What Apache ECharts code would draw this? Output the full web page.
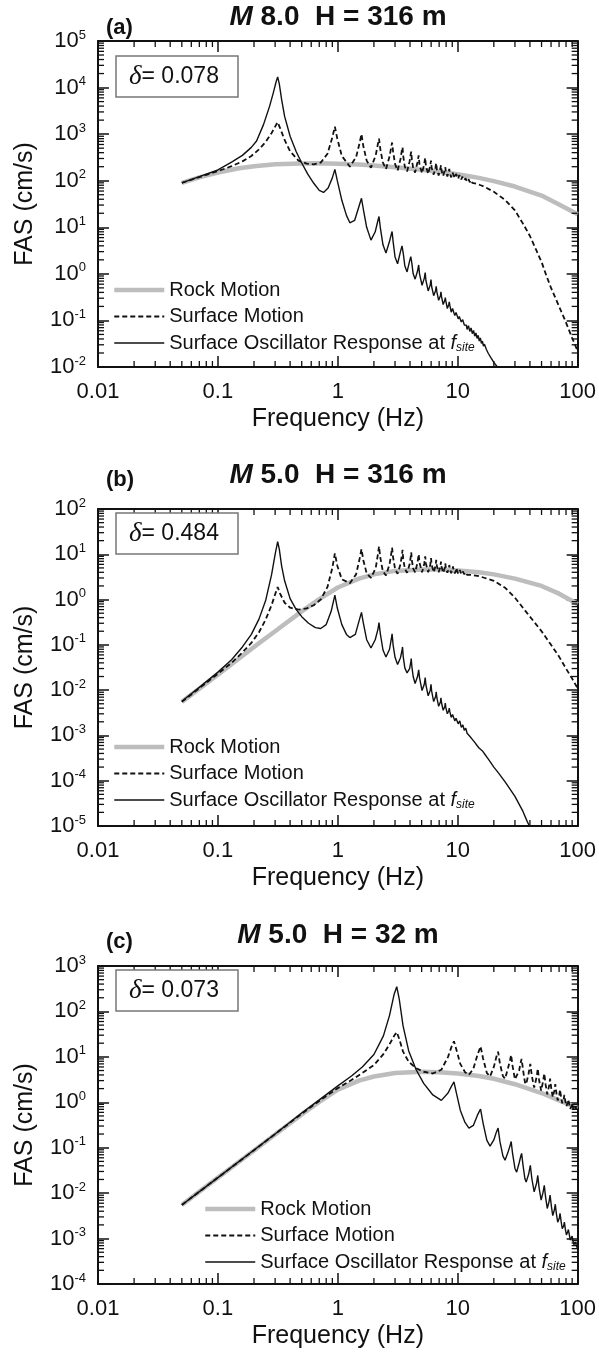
<!DOCTYPE html>
<html>
<head>
<meta charset="utf-8">
<script src="https://cdn.jsdelivr.net/npm/echarts@6/dist/echarts.min.js"></script>
<style>
  html, body { margin: 0; padding: 0; background: #fff; }
  #chart { width: 599px; height: 1357px; }
</style>
</head>
<body>
<div id="chart"></div>
<script>
// ---- data: [frequency (Hz), FAS (cm/s)] ----
const rockA = [[0.05,90],[0.07,118],[0.1,150],[0.15,185],[0.2,205],[0.3,225],[0.5,235],[0.7,236],[1,232],[1.5,222],[2,212],[3,195],[5,172],[7,155],[10,138],[15,115],[20,98],[30,75],[50,48],[70,31],[100,19]];
const surfA = [[0.05,90],[0.07,120],[0.1,160],[0.13,205],[0.16,260],[0.19,340],[0.22,470],[0.25,680],[0.28,1050],[0.3,1450],[0.315,1800],[0.33,1350],[0.36,750],[0.4,430],[0.47,270],[0.55,232],[0.63,225],[0.72,245],[0.82,380],[0.9,850],[0.945,1450],[0.99,800],[1.08,340],[1.26,200],[1.42,320],[1.52,650],[1.575,1000],[1.63,560],[1.74,270],[1.89,190],[2.07,350],[2.16,620],[2.205,800],[2.26,480],[2.37,250],[2.52,178],[2.7,330],[2.8,560],[2.835,660],[2.89,420],[3.0,230],[3.15,165],[3.33,290],[3.43,470],[3.465,520],[3.51,340],[3.62,200],[3.78,158],[3.97,260],[4.06,380],[4.095,420],[4.14,290],[4.25,185],[4.41,150],[4.6,240],[4.725,350],[4.8,220],[5.04,145],[5.25,225],[5.355,310],[5.43,205],[5.67,140],[5.9,210],[5.985,270],[6.06,190],[6.3,135],[6.53,195],[6.615,240],[6.7,175],[6.93,130],[7.16,180],[7.245,215],[7.33,165],[7.56,127],[7.8,170],[7.875,195],[7.96,155],[8.19,123],[8.42,160],[8.5,180],[8.6,145],[8.82,118],[9.05,150],[9.13,165],[9.22,138],[9.45,114],[9.68,140],[9.76,150],[9.86,130],[10.1,110],[10.3,132],[10.4,140],[10.5,124],[10.7,106],[10.9,122],[11.0,128],[11.1,116],[11.35,102],[11.6,113],[11.65,117],[11.8,106],[11.97,96],[12.29,108],[12.6,93],[12.92,103],[13.23,90],[13.55,99],[13.86,88],[14.18,95],[14.49,85],[14.81,91],[15.12,82],[15.44,86],[15.75,79],[16.5,75],[17,72],[20,58],[25,38],[30,23],[35,12],[40,6.5],[45,3.3],[50,1.8],[55,0.9],[60,0.5],[70,0.2],[80,0.09],[90,0.042],[100,0.022]];
const oscA = [[0.05,90],[0.07,122],[0.1,170],[0.13,250],[0.16,350],[0.19,520],[0.21,710],[0.24,1600],[0.27,4000],[0.29,7800],[0.305,13000],[0.315,17000],[0.325,12000],[0.34,5500],[0.36,2400],[0.4,900],[0.45,420],[0.5,240],[0.56,140],[0.63,88],[0.7,62],[0.76,56],[0.83,70],[0.9,115],[0.945,175],[0.99,100],[1.08,38],[1.18,18],[1.26,12.5],[1.38,14],[1.5,28],[1.575,42],[1.63,25],[1.74,10],[1.89,5.3],[2.05,8],[2.16,14],[2.205,17],[2.26,10],[2.38,4.2],[2.52,2.8],[2.7,5],[2.8,7.3],[2.835,8.1],[2.89,5],[3.0,2.3],[3.15,1.65],[3.33,3],[3.43,4],[3.465,4.3],[3.51,2.8],[3.62,1.5],[3.78,1.1],[3.97,1.9],[4.06,2.35],[4.095,2.5],[4.14,1.7],[4.25,1.0],[4.41,0.77],[4.62,1.15],[4.725,1.55],[4.8,1.0],[5.04,0.57],[5.26,0.8],[5.355,1.07],[5.43,0.72],[5.67,0.43],[5.9,0.58],[5.985,0.75],[6.06,0.53],[6.3,0.34],[6.54,0.44],[6.615,0.54],[6.7,0.41],[6.93,0.27],[7.17,0.34],[7.245,0.41],[7.33,0.32],[7.56,0.22],[7.8,0.27],[7.875,0.31],[7.96,0.26],[8.19,0.18],[8.42,0.22],[8.5,0.25],[8.6,0.21],[8.82,0.15],[9.05,0.18],[9.13,0.196],[9.22,0.17],[9.45,0.127],[9.68,0.148],[9.76,0.158],[9.86,0.138],[10.1,0.108],[10.3,0.122],[10.4,0.128],[10.5,0.113],[10.7,0.093],[10.9,0.101],[11.0,0.104],[11.1,0.095],[11.35,0.08],[11.6,0.084],[11.65,0.086],[11.8,0.079],[11.97,0.064],[12.29,0.077],[12.6,0.058],[12.92,0.069],[13.23,0.052],[13.55,0.061],[13.86,0.046],[14.18,0.054],[14.49,0.041],[14.81,0.048],[15.12,0.036],[15.44,0.042],[15.75,0.032],[16.07,0.036],[16.38,0.028],[16.7,0.031],[17.3,0.024],[18,0.0195],[19,0.0155],[20,0.0125],[22,0.0092],[24,0.007]];

const rockB = [[0.05,0.0055],[0.07,0.0108],[0.1,0.022],[0.15,0.05],[0.2,0.09],[0.3,0.2],[0.5,0.55],[0.7,1.02],[1,1.85],[1.5,2.9],[2,3.6],[3,4.3],[5,4.6],[7,4.6],[10,4.4],[15,4.0],[20,3.6],[30,2.9],[50,2.0],[70,1.35],[100,0.8]];
const surfB = [[0.05,0.0055],[0.07,0.011],[0.1,0.023],[0.13,0.04],[0.16,0.068],[0.19,0.11],[0.22,0.19],[0.25,0.36],[0.28,0.75],[0.3,1.3],[0.315,1.9],[0.33,1.35],[0.36,0.85],[0.4,0.66],[0.47,0.6],[0.55,0.64],[0.63,0.75],[0.72,1.0],[0.82,1.9],[0.9,5],[0.945,10.5],[0.99,5.6],[1.08,2.8],[1.26,2.3],[1.42,3.6],[1.52,8],[1.575,13],[1.63,7.5],[1.74,3.8],[1.89,3.0],[2.07,5],[2.16,10],[2.205,15],[2.26,8.5],[2.37,4.3],[2.52,3.4],[2.7,6],[2.8,11],[2.835,14],[2.89,8.5],[3.0,4.8],[3.15,3.7],[3.33,6],[3.43,10],[3.465,12.5],[3.51,8],[3.62,4.8],[3.78,3.9],[3.97,6],[4.06,9],[4.095,11],[4.14,7.5],[4.25,4.9],[4.41,4.0],[4.62,6.5],[4.725,10],[4.8,6.5],[5.04,4.0],[5.26,6.2],[5.355,9],[5.43,6.2],[5.67,4.0],[5.9,5.8],[5.985,8.2],[6.06,5.9],[6.3,4.0],[6.54,5.6],[6.615,7.5],[6.7,5.6],[6.93,4.0],[7.17,5.3],[7.245,6.9],[7.33,5.3],[7.56,3.9],[7.8,5.0],[7.875,6.3],[7.96,5.0],[8.19,3.9],[8.42,4.8],[8.5,5.8],[8.6,4.8],[8.82,3.8],[9.05,4.6],[9.13,5.4],[9.22,4.5],[9.45,3.8],[9.68,4.4],[9.76,5.0],[9.86,4.3],[10.1,3.7],[10.4,4.5],[10.7,3.7],[11.0,4.2],[11.35,3.6],[11.65,4.0],[12,3.5],[13,3.5],[15,3.3],[20,2.6],[25,1.8],[30,1.1],[40,0.42],[50,0.2],[60,0.1],[70,0.055],[80,0.03],[90,0.018],[100,0.011]];
const oscB = [[0.05,0.0057],[0.07,0.0115],[0.1,0.025],[0.13,0.047],[0.16,0.09],[0.19,0.17],[0.22,0.37],[0.25,0.95],[0.28,3.5],[0.3,10],[0.315,19],[0.325,13],[0.34,5.5],[0.36,2.6],[0.4,1.05],[0.45,0.6],[0.5,0.42],[0.57,0.3],[0.65,0.24],[0.72,0.23],[0.8,0.28],[0.88,0.55],[0.945,1.25],[0.99,0.65],[1.08,0.28],[1.18,0.17],[1.26,0.145],[1.4,0.17],[1.5,0.33],[1.575,0.52],[1.63,0.31],[1.74,0.13],[1.89,0.085],[2.05,0.13],[2.16,0.22],[2.205,0.31],[2.26,0.18],[2.38,0.077],[2.52,0.054],[2.7,0.08],[2.8,0.14],[2.835,0.175],[2.89,0.1],[3.0,0.053],[3.15,0.037],[3.33,0.052],[3.43,0.075],[3.465,0.09],[3.51,0.055],[3.62,0.031],[3.78,0.024],[3.97,0.03],[4.06,0.042],[4.095,0.05],[4.14,0.034],[4.25,0.02],[4.41,0.014],[4.62,0.02],[4.725,0.028],[4.8,0.019],[5.04,0.0098],[5.26,0.0135],[5.355,0.019],[5.43,0.013],[5.67,0.0075],[5.9,0.01],[5.985,0.0135],[6.06,0.0095],[6.3,0.0056],[6.54,0.0072],[6.615,0.0092],[6.7,0.0068],[6.93,0.0044],[7.17,0.0055],[7.245,0.0068],[7.33,0.0052],[7.56,0.0036],[7.8,0.0043],[7.875,0.0052],[7.96,0.0041],[8.19,0.003],[8.42,0.0035],[8.5,0.004],[8.6,0.0033],[8.82,0.0025],[9.05,0.0029],[9.13,0.0032],[9.22,0.0027],[9.45,0.0021],[9.68,0.0024],[9.76,0.0026],[9.86,0.0023],[10.08,0.0018],[10.4,0.0021],[10.71,0.0015],[11.03,0.0017],[11.34,0.0013],[11.66,0.00145],[11.97,0.00112],[12.29,0.00122],[12.6,0.00096],[12.92,0.00104],[13.23,0.00082],[13.55,0.00088],[13.86,0.0007],[14.18,0.00075],[14.49,0.0006],[14.81,0.00064],[15.12,0.00052],[15.44,0.00055],[16,0.00046],[17,0.00037],[18,0.0003],[20,0.0002],[22,0.000145],[25,0.000092],[30,0.000045],[35,0.000021],[38,0.0000125],[40,0.0000095]];

const rockC = [[0.05,0.0055],[0.07,0.0108],[0.1,0.022],[0.15,0.049],[0.2,0.087],[0.3,0.195],[0.5,0.54],[0.7,1.02],[1,1.9],[1.5,3.0],[2,3.7],[3,4.4],[5,4.7],[7,4.6],[10,4.3],[15,3.8],[20,3.3],[30,2.5],[50,1.6],[70,1.1],[100,0.75]];
const surfC = [[0.05,0.0055],[0.07,0.0108],[0.1,0.022],[0.2,0.088],[0.3,0.2],[0.5,0.56],[0.7,1.07],[1,2.05],[1.3,3.1],[1.6,4.4],[2,6.6],[2.4,11.5],[2.7,19],[2.95,29],[3.1,35],[3.25,25],[3.5,13],[3.9,7.8],[4.5,5.6],[5.2,4.7],[6.2,4.3],[7.3,5.2],[8.3,10],[8.9,17],[9.3,22],[9.7,15],[10.5,7],[11.5,4.6],[12.4,4.0],[13.5,5.5],[14.6,11],[15.5,17],[16.3,9],[17.5,4.4],[18.6,3.7],[20,6],[21,10],[21.7,13],[22.5,7],[23.8,3.8],[24.8,3.3],[26.2,5.5],[27.3,8.5],[27.9,11],[28.6,6.5],[30,3.2],[31,2.9],[32.5,5],[33.5,7.5],[34.1,9],[35,5.3],[36.3,2.8],[37.2,2.5],[39,4.3],[40.3,7],[41.5,3.8],[43.4,2.1],[45.5,3.6],[46.5,5.5],[47.7,3.1],[49.6,1.8],[51.5,2.9],[52.7,4.3],[54,2.5],[55.8,1.5],[57.8,2.3],[58.9,3.3],[60.3,2.0],[62,1.3],[64,1.8],[65.1,2.5],[66.5,1.6],[68.2,1.1],[70.3,1.45],[71.3,1.9],[72.8,1.3],[74.4,0.95],[76.5,1.15],[77.5,1.45],[79,1.05],[80.6,0.82],[82.5,0.98],[83.7,1.15],[85.3,0.88],[86.8,0.72],[89,0.82],[89.9,0.95],[91.5,0.76],[93,0.66],[95,0.72],[96.1,0.8],[97.5,0.68],[100,0.62]];
const oscC = [[0.05,0.0055],[0.07,0.0108],[0.1,0.022],[0.2,0.089],[0.3,0.2],[0.5,0.58],[0.7,1.13],[1,2.3],[1.3,3.8],[1.6,6],[2,11.3],[2.4,29],[2.7,82],[2.95,240],[3.1,350],[3.25,190],[3.5,48],[3.9,13.5],[4.5,5.2],[5.2,2.6],[6.2,1.45],[7.3,1.1],[8.3,1.6],[8.9,2.3],[9.3,2.8],[9.7,1.7],[10.5,0.67],[11.5,0.36],[12.4,0.27],[13.5,0.31],[14.6,0.52],[15.5,0.71],[16.3,0.34],[17.5,0.145],[18.6,0.108],[20,0.148],[21,0.22],[21.7,0.27],[22.5,0.136],[23.8,0.066],[24.8,0.053],[26.2,0.078],[27.3,0.11],[27.9,0.137],[28.6,0.078],[30,0.035],[31,0.029],[32.5,0.046],[33.5,0.064],[34.1,0.075],[35,0.042],[36.3,0.021],[37.2,0.0175],[39,0.026],[40.3,0.041],[41.5,0.021],[43.4,0.0107],[45.5,0.0167],[46.5,0.0245],[47.7,0.0131],[49.6,0.007],[51.5,0.0105],[52.7,0.0149],[54,0.0083],[55.8,0.0046],[57.8,0.0066],[58.9,0.0091],[60.3,0.0053],[62,0.0032],[64,0.0043],[65.1,0.0057],[66.5,0.0035],[68.2,0.0023],[70.3,0.0028],[71.3,0.0036],[72.8,0.0024],[74.4,0.00166],[76.5,0.0019],[77.5,0.0023],[79,0.0016],[80.6,0.0012],[82.5,0.0014],[83.7,0.00158],[85.3,0.0012],[86.8,0.00093],[89,0.001],[89.9,0.00113],[91.5,0.00088],[93,0.00074],[95,0.00078],[96.1,0.00083],[97.5,0.0007],[100,0.0006]];

// axis ranges and texts
const xRange = [0.01, 100];
const xTickLabels = ['0.01', '0.1', '1', '10', '100'];
const yRanges = [[1e-2, 1e5], [1e-5, 1e2], [1e-4, 1e3]];
const magnitudes = ['8.0', '5.0', '5.0'];
const depths = ['H = 316 m', 'H = 316 m', 'H = 32 m'];
const tags = ['(a)', '(b)', '(c)'];
const deltas = ['0.078', '0.484', '0.073'];
const names = ['Rock Motion', 'Surface Motion', 'Surface Oscillator Response at f_site'];

const panels = [[rockA, surfA, oscA], [rockB, surfB, oscB], [rockC, surfC, oscC]];

// ---- layout ----
const FONT = "'Liberation Sans', Arial, sans-serif";
const gridLeft = 98, gridWidth = 480;
const gridTops = [41, 509, 966];
const gridHeights = [326, 317, 318];
const titleY = [17, 475, 935];
const tagY = [28, 480, 942];
const boxTops = [56, 513, 970];
const legendPos = [[107, 275], [107, 732], [198, 1194]];

const chart = echarts.init(document.getElementById('chart'), null, { renderer: 'canvas' });

// minor tick values (2..9 x 10^k) for a log range
function minorTicks(lo, hi) {
  const out = [];
  for (let e = Math.round(Math.log10(lo)); e < Math.round(Math.log10(hi)); e++) {
    for (let m = 2; m <= 9; m++) out.push(m * Math.pow(10, e));
  }
  return out;
}

const axisColor = '#111';
const grids = [], xAxes = [], yAxes = [], series = [], legends = [], graphics = [];

panels.forEach((p, i) => {
  grids.push({ left: gridLeft, top: gridTops[i], width: gridWidth, height: gridHeights[i] });
  const lineSt = { color: axisColor, width: 2 };
  const tickSt = { inside: true, length: 11, lineStyle: { color: axisColor, width: 1.5 } };
  xAxes.push({
    type: 'log', logBase: 10, gridIndex: i, min: xRange[0], max: xRange[1], position: 'bottom',
    axisLine: { lineStyle: lineSt }, axisTick: tickSt, splitLine: { show: false },
    axisLabel: {
      fontFamily: FONT, fontSize: 22, color: '#111', margin: 14, showMinLabel: true, showMaxLabel: true,
      formatter: v => xTickLabels[Math.round(Math.log10(v)) + 2]
    },
    name: 'Frequency (Hz)', nameLocation: 'middle', nameGap: 40,
    nameTextStyle: { fontFamily: FONT, fontSize: 25, color: '#111' }
  });
  xAxes.push({
    type: 'log', logBase: 10, gridIndex: i, min: xRange[0], max: xRange[1], position: 'top',
    axisLine: { lineStyle: lineSt }, axisTick: tickSt, splitLine: { show: false }, axisLabel: { show: false }
  });
  yAxes.push({
    type: 'log', logBase: 10, gridIndex: i, min: yRanges[i][0], max: yRanges[i][1], position: 'left',
    axisLine: { lineStyle: lineSt }, axisTick: tickSt, splitLine: { show: false },
    axisLabel: {
      color: '#111', margin: 12, showMinLabel: true, showMaxLabel: true,
      formatter: v => '{b|10}{s|' + Math.round(Math.log10(v)) + '}',
      rich: {
        b: { fontFamily: FONT, fontSize: 22, color: '#111' },
        s: { fontFamily: FONT, fontSize: 13, color: '#111', padding: [0, 0, 12, 0] }
      }
    },
    name: 'FAS (cm/s)', nameLocation: 'middle', nameGap: 60,
    nameTextStyle: { fontFamily: FONT, fontSize: 25, color: '#111' }
  });
  yAxes.push({
    type: 'log', logBase: 10, gridIndex: i, min: yRanges[i][0], max: yRanges[i][1], position: 'right',
    axisLine: { lineStyle: lineSt }, axisTick: tickSt, splitLine: { show: false }, axisLabel: { show: false }
  });

  const ax = i * 2;
  series.push({
    name: names[0], type: 'line', xAxisIndex: ax, yAxisIndex: ax, data: p[0],
    symbol: 'none', animation: false, z: 2,
    lineStyle: { color: '#bdbdbd', width: 4.5 }, itemStyle: { color: '#bdbdbd' }
  });
  series.push({
    name: names[1], type: 'line', xAxisIndex: ax, yAxisIndex: ax, data: p[1],
    symbol: 'none', animation: false, z: 3,
    lineStyle: { color: '#111', width: 1.8, type: [5, 3] }, itemStyle: { color: '#111' }
  });
  series.push({
    name: names[2], type: 'line', xAxisIndex: ax, yAxisIndex: ax, data: p[2],
    symbol: 'none', animation: false, z: 4,
    lineStyle: { color: '#111', width: 1.4 }, itemStyle: { color: '#111' }
  });

  // minor log ticks on all four sides
  const xm = minorTicks(xRange[0], xRange[1]);
  const ym = minorTicks(yRanges[i][0], yRanges[i][1]);
  series.push({
    type: 'custom', xAxisIndex: ax, yAxisIndex: ax, silent: true, clip: false, animation: false, z: 6,
    data: [[1, 1]],
    renderItem: (params, api) => {
      const cs = params.coordSys;
      const st = { stroke: axisColor, lineWidth: 1.3 };
      const kids = [];
      const L = 6;
      xm.forEach(v => {
        const x = api.coord([v, 1])[0];
        kids.push({ type: 'line', shape: { x1: x, y1: cs.y + cs.height, x2: x, y2: cs.y + cs.height - L }, style: st });
        kids.push({ type: 'line', shape: { x1: x, y1: cs.y, x2: x, y2: cs.y + L }, style: st });
      });
      ym.forEach(v => {
        const y = api.coord([1, v])[1];
        kids.push({ type: 'line', shape: { x1: cs.x, y1: y, x2: cs.x + L, y2: y }, style: st });
        kids.push({ type: 'line', shape: { x1: cs.x + cs.width, y1: y, x2: cs.x + cs.width - L, y2: y }, style: st });
      });
      return { type: 'group', children: kids };
    }
  });

  legends.push({
    orient: 'vertical', left: legendPos[i][0], top: legendPos[i][1],
    itemWidth: 50, itemHeight: 14, itemGap: 6.5, selectedMode: false,
    data: names,
    lineStyle: { width: 'inherit' },
    itemStyle: { opacity: 0 },
    formatter: n => n === names[2] ? '{t|Surface Oscillator Response at }{i|f}{s|site}' : '{t|' + n + '}',
    textStyle: {
      fontFamily: FONT, fontSize: 20, color: '#111', lineHeight: 20,
      rich: {
        t: { fontFamily: FONT, fontSize: 20, color: '#111', lineHeight: 20 },
        i: { fontFamily: FONT, fontSize: 20, color: '#111', fontStyle: 'italic', lineHeight: 20 },
        s: { fontFamily: FONT, fontSize: 12, color: '#111', fontStyle: 'italic', padding: [9, 0, 0, 0] }
      }
    }
  });

  // panel title, tag and damping box
  graphics.push({
    type: 'text', x: 338, y: titleY[i],
    style: {
      text: '{m|M}{t| ' + magnitudes[i] + '  ' + depths[i] + '}',
      align: 'center', verticalAlign: 'middle',
      rich: {
        m: { fontFamily: FONT, fontSize: 28, fontWeight: 'bold', fontStyle: 'italic', fill: '#111' },
        t: { fontFamily: FONT, fontSize: 28, fontWeight: 'bold', fill: '#111' }
      }
    }
  });
  graphics.push({
    type: 'text', x: 106, y: tagY[i],
    style: { text: tags[i], font: 'bold 22px ' + FONT, fill: '#111', verticalAlign: 'middle' }
  });
  graphics.push({
    type: 'rect', shape: { x: 116, y: boxTops[i], width: 122, height: 41 },
    style: { fill: '#fff', stroke: '#777', lineWidth: 1.5 }, z: 10
  });
  graphics.push({
    type: 'text', x: 129, y: boxTops[i] + 21, z: 11,
    style: {
      text: '{d|δ}{n|= ' + deltas[i] + '}', verticalAlign: 'middle',
      rich: {
        d: { fontFamily: "'Liberation Serif', serif", fontStyle: 'italic', fontSize: 27, fill: '#111' },
        n: { fontFamily: FONT, fontSize: 23, fill: '#111' }
      }
    }
  });
});

chart.setOption({
  backgroundColor: '#fff',
  animation: false,
  grid: grids,
  xAxis: xAxes,
  yAxis: yAxes,
  legend: legends,
  series: series,
  graphic: graphics
});
</script>
</body>
</html>
